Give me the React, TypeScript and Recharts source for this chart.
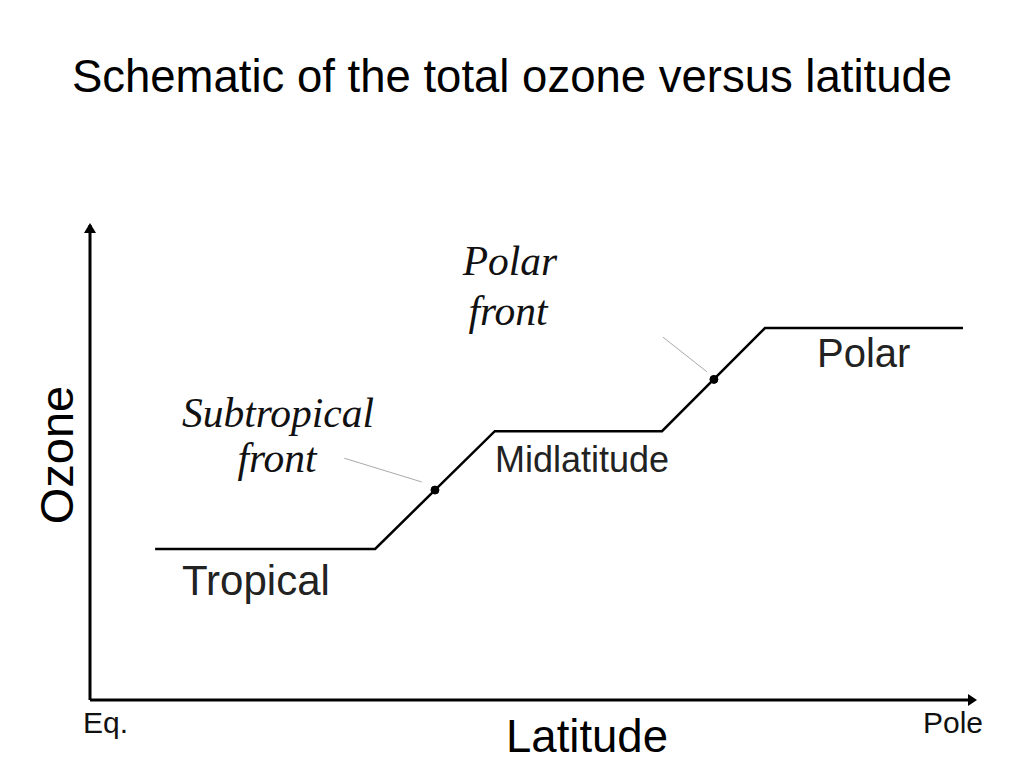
import React from 'react';
import { LineChart, Line, XAxis, YAxis, ReferenceLine, ReferenceDot, Customized } from 'recharts';

// schematic curve, latitude 0 = equator, 100 = pole; ozone in arbitrary units
const latitude = [7.4, 32.4, 46, 65, 76.7, 99.2];
const ozone = [31.8, 31.8, 56.6, 56.6, 78.3, 78.3];

const frontLatitude = [39.2, 70.9];
const frontOzone = [44.2, 67.5];

// grey leader lines from the italic labels to the front dots
const leaderStartLat = [28.9, 65.1];
const leaderStartOzone = [50.9, 76.4];
const leaderEndLat = [37.7, 70.1];
const leaderEndOzone = [45.9, 69.1];

const tickValues = [0, 100];
const tickLabels = ['Eq.', 'Pole'];

const data = latitude.map((lat, i) => ({ lat, ozone: ozone[i] }));

const SANS = '"Liberation Sans", Arial, sans-serif';
const SERIF = '"Liberation Serif", "Times New Roman", serif';

const EdgeTick = (props: any) => {
  const { x, y, payload } = props;
  const i = tickValues.indexOf(payload.value);
  const first = i === 0;
  return (
    <text
      x={first ? x - 7 : x + 13}
      y={y + 25}
      textAnchor={first ? 'start' : 'end'}
      fontFamily={SANS}
      fontSize={30}
      fill="#111"
    >
      {tickLabels[i]}
    </text>
  );
};

const ArrowUp = (props: any) => {
  const { cx, cy } = props;
  return <path d={`M${cx - 6},${cy + 8} L${cx},${cy - 2} L${cx + 6},${cy + 8} Z`} fill="#000" />;
};

const ArrowRight = (props: any) => {
  const { cx, cy } = props;
  return <path d={`M${cx - 2},${cy - 6} L${cx + 7},${cy} L${cx - 2},${cy + 6} Z`} fill="#000" />;
};

const Texts = () => (
  <g>
    <text x={512} y={92} textAnchor="middle" fontFamily={SANS} fontSize={45.5} fill="#000">
      Schematic of the total ozone versus latitude
    </text>
    <text x={587} y={752} textAnchor="middle" fontFamily={SANS} fontSize={45.5} fill="#000">
      Latitude
    </text>
    <text
      x={73}
      y={455}
      transform="rotate(-90 73 455)"
      textAnchor="middle"
      fontFamily={SANS}
      fontSize={47}
      fill="#000"
    >
      Ozone
    </text>
    <text x={182} y={595} fontFamily={SANS} fontSize={42} fill="#222">Tropical</text>
    <text x={495} y={472} fontFamily={SANS} fontSize={36} fill="#222">Midlatitude</text>
    <text x={817} y={367} fontFamily={SANS} fontSize={40} fill="#222">Polar</text>
    <g fontFamily={SERIF} fontStyle="italic" fontSize={41.5} fill="#111" textAnchor="middle">
      <text x={278} y={427}>Subtropical</text>
      <text x={277} y={472}>front</text>
      <text x={510} y={275}>Polar</text>
      <text x={508} y={325}>front</text>
    </g>
  </g>
);

export default function App() {
  return (
    <div style={{ position: 'absolute', left: 0, top: 0, background: '#fff' }}>
      <LineChart width={1024} height={768} data={data} margin={{ top: 225, right: 54, left: 90, bottom: 0 }}>
        <XAxis
          type="number"
          dataKey="lat"
          domain={[0, 100]}
          ticks={tickValues}
          height={68}
          axisLine={{ stroke: '#000', strokeWidth: 3 }}
          tickLine={false}
          tick={<EdgeTick />}
        />
        <YAxis type="number" domain={[0, 100]} hide />
        <ReferenceLine x={0} stroke="#000" strokeWidth={3} />
        <ReferenceDot x={0} y={100} r={6} shape={<ArrowUp />} />
        <ReferenceDot x={100} y={0} r={6} shape={<ArrowRight />} />
        {leaderStartLat.map((lat, i) => (
          <ReferenceLine
            key={`lead-${i}`}
            segment={[
              { x: lat, y: leaderStartOzone[i] },
              { x: leaderEndLat[i], y: leaderEndOzone[i] },
            ]}
            stroke="#aaa"
            strokeWidth={1}
          />
        ))}
        <Line
          type="linear"
          dataKey="ozone"
          stroke="#000"
          strokeWidth={2.5}
          dot={false}
          isAnimationActive={false}
        />
        {frontLatitude.map((lat, i) => (
          <ReferenceDot key={`front-${i}`} x={lat} y={frontOzone[i]} r={4} fill="#000" stroke="#000" />
        ))}
        <Customized component={Texts} />
      </LineChart>
    </div>
  );
}
